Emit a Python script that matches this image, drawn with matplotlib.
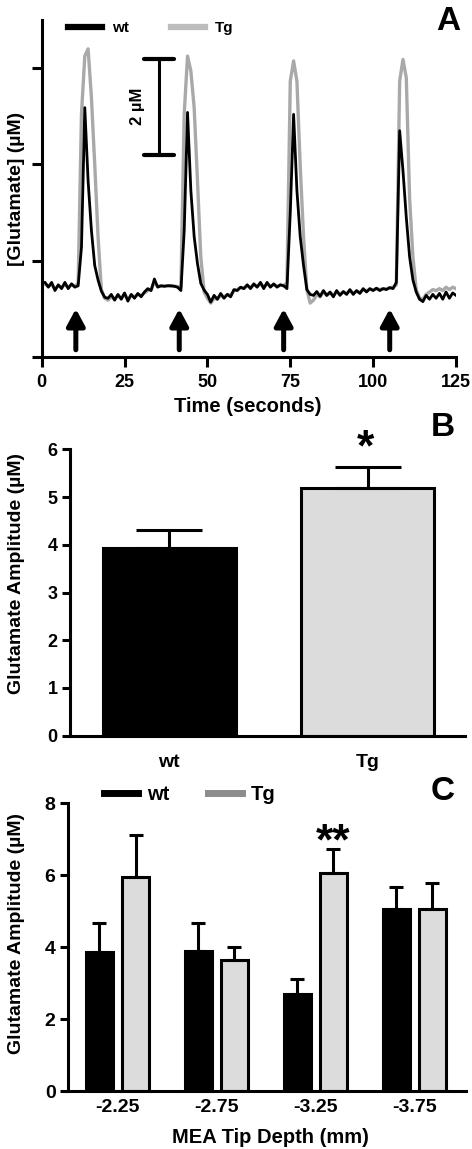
import numpy as np
import matplotlib.pyplot as plt
from matplotlib.lines import Line2D

plt.rcParams['font.family'] = ['Liberation Sans', 'DejaVu Sans']
plt.rcParams['font.weight'] = 'bold'
plt.rcParams['axes.labelweight'] = 'bold'

# --- panel A: glutamate trace, one sample per second ---
time_s = np.arange(0, 126)
trace_wt = [1.55, 1.55, 1.45, 1.55, 1.38, 1.50, 1.42, 1.55, 1.42, 1.52, 1.45, 1.48,
            2.28, 5.18, 3.66, 2.63, 1.90, 1.60, 1.37, 1.24,
            1.22, 1.30, 1.18, 1.30, 1.20, 1.33, 1.16, 1.30, 1.22, 1.32, 1.25, 1.35, 1.42, 1.38,
            1.62, 1.45, 1.48, 1.47, 1.48, 1.48, 1.47, 1.45, 1.38,
            2.63, 5.08, 3.46, 2.50, 1.94, 1.53, 1.39, 1.30, 1.14,
            1.28, 1.20, 1.32, 1.22, 1.30, 1.25, 1.40, 1.38, 1.45, 1.42, 1.50, 1.42, 1.52, 1.45,
            1.55, 1.42, 1.55, 1.45, 1.52, 1.45, 1.50, 1.48, 1.42,
            3.00, 5.04, 3.46, 2.50, 1.90, 1.40, 1.30,
            1.28, 1.36, 1.26, 1.38, 1.28, 1.35, 1.25, 1.38, 1.28, 1.36, 1.30, 1.40, 1.30, 1.38,
            1.32, 1.42, 1.35, 1.42, 1.38, 1.43, 1.38, 1.42, 1.40, 1.44, 1.42, 1.55,
            4.70, 3.87, 2.90, 2.08, 1.60, 1.35, 1.20,
            1.15, 1.28, 1.20, 1.30, 1.22, 1.32, 1.20, 1.35, 1.22, 1.33, 1.28]
trace_tg = [1.50, 1.52, 1.47, 1.50, 1.42, 1.48, 1.45, 1.50, 1.45, 1.50, 1.47, 1.53,
            5.05, 6.25, 6.40, 5.39, 4.00, 2.50, 1.40, 1.22,
            1.18, 1.25, 1.20, 1.28, 1.22, 1.30, 1.20, 1.28, 1.25, 1.30, 1.28, 1.33, 1.38, 1.40,
            1.55, 1.47, 1.47, 1.47, 1.48, 1.47, 1.47, 1.46, 1.46,
            5.05, 6.25, 5.94, 5.18, 3.66, 2.08, 1.35, 1.22, 1.12,
            1.22, 1.20, 1.28, 1.24, 1.30, 1.28, 1.38, 1.40, 1.44, 1.43, 1.48, 1.45, 1.50, 1.47,
            1.52, 1.45, 1.52, 1.47, 1.50, 1.47, 1.49, 1.48, 1.55,
            5.73, 6.15, 5.73, 3.97, 2.50, 1.40, 1.12,
            1.18, 1.30, 1.25, 1.35, 1.28, 1.33, 1.28, 1.36, 1.30, 1.35, 1.32, 1.38, 1.32, 1.37,
            1.34, 1.40, 1.37, 1.41, 1.39, 1.42, 1.40, 1.42, 1.42, 1.44, 1.45, 1.50,
            5.73, 6.18, 5.80, 3.30, 2.08, 1.40, 1.22,
            1.20, 1.30, 1.35, 1.40, 1.38, 1.42, 1.38, 1.45, 1.40, 1.45, 1.42]
stim_times = [10.3, 41.5, 73.0, 105.0]

# --- panel B ---
groups = ['wt', 'Tg']
amp_mean = [3.93, 5.19]
amp_sem = [0.38, 0.43]

# --- panel C ---
depths = ['-2.25', '-2.75', '-3.25', '-3.75']
wt_mean = [3.87, 3.90, 2.69, 5.06]
wt_sem = [0.81, 0.78, 0.42, 0.62]
tg_mean = [5.96, 3.64, 6.05, 5.06]
tg_sem = [1.16, 0.37, 0.67, 0.72]

LW = 2.2
W, H = 472, 1149


def style(ax):
    for s in ['top', 'right']:
        ax.spines[s].set_visible(False)
    for s in ['left', 'bottom']:
        ax.spines[s].set_linewidth(LW)


fig = plt.figure(figsize=(W / 100, H / 100), dpi=100)

# ---------------- A ----------------
axA = fig.add_axes([41.7 / W, 1 - 357 / H, 414.3 / W, 337 / H])
style(axA)
lTg, = axA.plot(time_s, trace_tg, color='#a9a9a9', lw=2.4)
lWt, = axA.plot(time_s, trace_wt, color='black', lw=2.0)
for t in stim_times:
    axA.annotate('', xy=(t, 1.0), xytext=(t, 0.15),
                 arrowprops=dict(arrowstyle='-|>,head_length=0.5,head_width=0.27',
                                 lw=3.6, color='black', shrinkA=0, shrinkB=0,
                                 mutation_scale=20))
# 2 uM scale bar
axA.plot([35.4, 35.4], [4.2, 6.2], color='black', lw=LW)
axA.plot([30.8, 40.0], [6.2, 6.2], color='black', lw=LW + 0.8, solid_capstyle='round')
axA.plot([30.8, 40.0], [4.2, 4.2], color='black', lw=LW + 0.8, solid_capstyle='round')
axA.text(29.0, 5.2, '2 µM', rotation=90, ha='center', va='center', fontsize=12)
axA.set_xlim(0, 125)
axA.set_ylim(0, 7)
axA.set_xticks([0, 25, 50, 75, 100, 125])
axA.set_yticks([0, 2, 4, 6])
axA.set_yticklabels([])
axA.tick_params(width=LW, length=7, labelsize=13, pad=5)
axA.set_xlabel('Time (seconds)', fontsize=14.5)
axA.xaxis.set_label_coords(0.498, -0.118)
axA.xaxis.label.set_va('top')
axA.set_ylabel('[Glutamate] (µM)', fontsize=14)
axA.yaxis.set_label_coords(-0.04, 0.5)
handles = [Line2D([], [], color='black', lw=4.5), Line2D([], [], color='#bdbdbd', lw=4.5)]
axA.legend(handles, groups, loc='center left', bbox_to_anchor=(0.0635, 0.976), ncol=2,
           frameon=False, fontsize=11, borderaxespad=0, borderpad=0, handlelength=2.2,
           handletextpad=0.65, columnspacing=2.8)

# ---------------- B ----------------
axB = fig.add_axes([70 / W, 1 - 735.7 / H, 395 / W, 286.4 / H])
style(axB)
xb = np.arange(len(groups))
axB.bar(xb, amp_mean, width=0.67, color=['black', '#dcdcdc'], edgecolor='black', lw=LW)
axB.errorbar(xb, amp_mean, yerr=[np.zeros(len(xb)), amp_sem], fmt='none', ecolor='black',
             elinewidth=LW, capsize=24, capthick=LW)
axB.text(0.99, 6.0, '*', ha='center', va='center', fontsize=32, clip_on=False)
axB.set_xlim(-0.5, 1.49)
axB.set_ylim(0, 6)
axB.set_xticks(xb)
axB.set_xticklabels(groups)
axB.tick_params(axis='y', width=LW, length=6, labelsize=13, pad=3)
axB.tick_params(axis='x', length=0, labelsize=14, pad=13)
axB.set_ylabel('Glutamate Amplitude (µM)', fontsize=14)
axB.yaxis.set_label_coords(-0.114, 0.568)

# ---------------- C ----------------
axC = fig.add_axes([68 / W, 1 - 1091 / H, 397.7 / W, 287.7 / H])
style(axC)
xc = np.arange(len(depths))
off, bw = 0.183, 0.27
axC.bar(xc - off, wt_mean, width=bw, color='black', edgecolor='black', lw=LW)
axC.bar(xc + off, tg_mean, width=bw, color='#dcdcdc', edgecolor='black', lw=LW)
axC.errorbar(xc - off, wt_mean, yerr=[np.zeros(len(xc)), wt_sem], fmt='none', ecolor='black',
             elinewidth=LW, capsize=5, capthick=LW)
axC.errorbar(xc + off, tg_mean, yerr=[np.zeros(len(xc)), tg_sem], fmt='none', ecolor='black',
             elinewidth=LW, capsize=5, capthick=LW)
axC.text(2 + off, 6.9, '**', ha='center', va='center', fontsize=32, clip_on=False)
axC.set_xlim(-0.5, 3.52)
axC.set_ylim(0, 8)
axC.set_yticks([0, 2, 4, 6, 8])
axC.set_xticks(xc)
axC.set_xticklabels(depths)
axC.tick_params(axis='y', width=LW, length=6, labelsize=14, pad=3)
axC.tick_params(axis='x', length=0, labelsize=14, pad=6)
axC.set_xlabel('MEA Tip Depth (mm)', fontsize=14.5)
axC.xaxis.set_label_coords(0.508, -0.128)
axC.xaxis.label.set_va('top')
axC.set_ylabel('Glutamate Amplitude (µM)', fontsize=14)
axC.yaxis.set_label_coords(-0.108, 0.546)
handles = [Line2D([], [], color='black', lw=5), Line2D([], [], color='#8c8c8c', lw=5)]
axC.legend(handles, groups, loc='center left', bbox_to_anchor=(0.0905, 1.029), ncol=2,
           frameon=False, fontsize=14.5, borderaxespad=0, borderpad=0, handlelength=1.7,
           handletextpad=0.45, columnspacing=1.9)

# panel letters
for lab, px, py in [('A', 448, 22), ('B', 443, 428), ('C', 443, 792)]:
    fig.text(px / W, 1 - py / H, lab, ha='center', va='center', fontsize=24)

fig.savefig('out.png', dpi=100)
